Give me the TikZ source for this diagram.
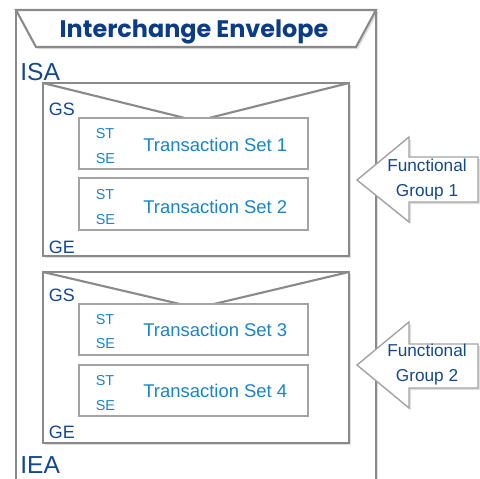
\documentclass[tikz,border=0pt]{standalone}
\usepackage{fontspec}
\setmainfont{Liberation Sans}
\newfontfamily\titlefont{Poppins}
\usetikzlibrary{shadows}
\definecolor{titleblue}{HTML}{0B3C85}
\definecolor{segblue}{HTML}{14488C}
\definecolor{setblue}{HTML}{1A85C6}
\definecolor{framegray}{HTML}{8A8A8A}
\definecolor{boxgray}{HTML}{A3A3A3}
\tikzset{
  frame/.style={draw=framegray, line width=1.2pt, fill=white,
    drop shadow={opacity=0.25, shadow xshift=1.2pt, shadow yshift=-1.2pt}},
  flap/.style={draw=framegray, line width=1.2pt},
  setbox/.style={draw=boxgray, line width=0.8pt, fill=white},
  pointer/.style={draw=boxgray, line width=0.8pt, fill=white,
    drop shadow={opacity=0.25, shadow xshift=1.2pt, shadow yshift=-1.2pt}},
  title/.style={font=\titlefont\bfseries\fontsize{13.6}{14}\selectfont, text=titleblue, inner sep=0pt, anchor=base},
  envseg/.style={font=\fontsize{14}{14}\selectfont, text=segblue, inner sep=0pt, anchor=base west},
  grpseg/.style={font=\fontsize{10.2}{12}\selectfont, text=segblue, inner sep=0pt, anchor=base west},
  setseg/.style={font=\fontsize{8.2}{10}\selectfont, text=setblue, inner sep=0pt, anchor=base west},
  setname/.style={font=\fontsize{10.5}{12}\selectfont, text=setblue, inner sep=0pt, anchor=base west},
  grpname/.style={font=\fontsize{9.8}{14.2}\selectfont, text=segblue, inner sep=0pt, align=center}
}
\begin{document}
\begin{tikzpicture}[x=0.02cm, y=-0.02cm]
    \useasboundingbox (0,0) rectangle (480,478);
    \draw[frame] (16,500) rectangle (376,10);
    \draw[frame] (16,10) -- (376,10) -- (356,47) -- (36,47) -- cycle;
    \node[title] (envelope) at (194,37) {Interchange Envelope};
    \node[envseg] (isa) at (20,80.5) {ISA};
    \draw[frame] (43,83) rectangle (349,256);
    \draw[flap] (43,83) -- (197,121) -- (349,83);
    \node[grpseg] (gs1) at (48.5,115) {GS};
    \node[grpseg] (ge1) at (48.5,253) {GE};
    \draw[setbox] (79,118) rectangle (308,169);
    \node[setseg] (st1) at (95.5,138.3) {ST};
    \node[setseg] (se1) at (95.5,163.3) {SE};
    \node[setname] (ts1) at (143,151.7) {Transaction Set 1};
    \draw[setbox] (79,178) rectangle (308,230);
    \node[setseg] (st2) at (95.5,199) {ST};
    \node[setseg] (se2) at (95.5,224) {SE};
    \node[setname] (ts2) at (143,213.3) {Transaction Set 2};
    \draw[frame] (43,272) rectangle (349,443);
    \draw[flap] (43,272) -- (197,308) -- (349,272);
    \node[grpseg] (gs2) at (48.5,301) {GS};
    \node[grpseg] (ge2) at (48.5,438) {GE};
    \draw[setbox] (79,304) rectangle (308,355);
    \node[setseg] (st3) at (95.5,324) {ST};
    \node[setseg] (se3) at (95.5,348) {SE};
    \node[setname] (ts3) at (143,336.7) {Transaction Set 3};
    \draw[setbox] (79,365) rectangle (308,416);
    \node[setseg] (st4) at (95.5,385) {ST};
    \node[setseg] (se4) at (95.5,410) {SE};
    \node[setname] (ts4) at (143,397.7) {Transaction Set 4};
    \node[envseg] (iea) at (20,473) {IEA};
    \draw[pointer] (357,180) -- (409,137) -- (409,157) -- (478,157) -- (478,202) -- (409,202) -- (409,222) -- cycle;
    \node[grpname] (fg1) at (427,180) {Functional\\Group 1};
    \draw[pointer] (357,365) -- (409,322) -- (409,344) -- (478,344) -- (478,388) -- (409,388) -- (409,408) -- cycle;
    \node[grpname] (fg2) at (427,365) {Functional\\Group 2};
\end{tikzpicture}
\end{document}
